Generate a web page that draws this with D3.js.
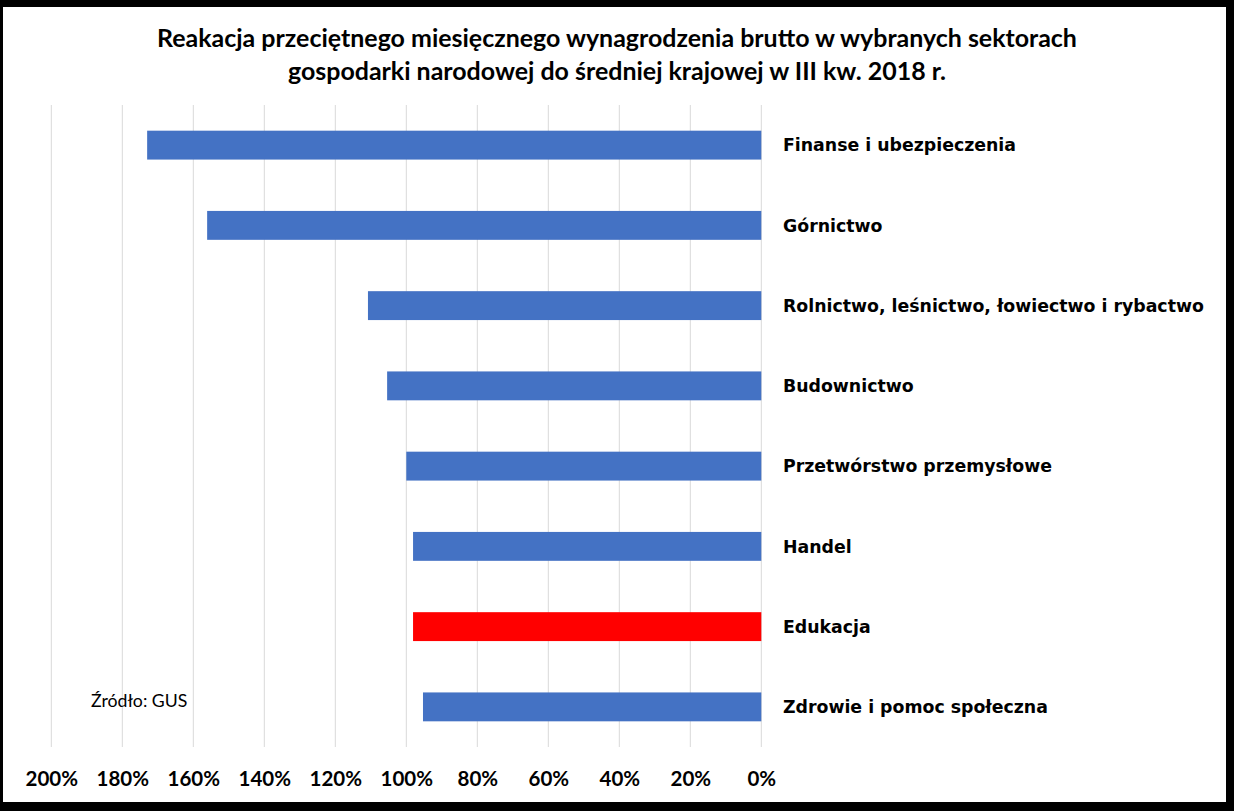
<!DOCTYPE html>
<html><head><meta charset="utf-8">
<script src="https://cdn.jsdelivr.net/npm/d3@7"></script>
<style>
html,body{margin:0;padding:0;background:#000;}
svg{display:block;}
</style></head>
<body>
<script>
const categories = ["Finanse i ubezpieczenia","Górnictwo","Rolnictwo, leśnictwo, łowiectwo i rybactwo","Budownictwo","Przetwórstwo przemysłowe","Handel","Edukacja","Zdrowie i pomoc społeczna"];
const values = [173.0, 156.1, 110.8, 105.4, 100.0, 98.1, 98.1, 95.3];
const highlighted = ["Edukacja"];
const tickValues = [200,180,160,140,120,100,80,60,40,20,0];
const titleLines = ["Reakacja przeciętnego miesięcznego wynagrodzenia brutto w wybranych sektorach","gospodarki narodowej do średniej krajowej w III kw. 2018 r."];
const sourceNote = "Źródło: GUS";

const W = 1234, H = 811;
const svg = d3.select("body").append("svg").attr("width", W).attr("height", H);
svg.append("rect").attr("x",0).attr("y",0).attr("width",W).attr("height",H).attr("fill","#000");
svg.append("rect").attr("x",3).attr("y",7).attr("width",1223).attr("height",795).attr("fill","#fff");

const x = d3.scaleLinear().domain([200,0]).range([51.3,761.3]);
const y = d3.scaleBand().domain(categories).range([105,747]).paddingInner(0.64).paddingOuter(0.32);

// gridlines
svg.append("g").selectAll("line").data(tickValues).join("line")
  .attr("x1",d=>x(d)).attr("x2",d=>x(d)).attr("y1",105).attr("y2",747)
  .attr("stroke","#d9d9d9").attr("stroke-width",1);

// bars
svg.append("g").selectAll("rect").data(categories).join("rect")
  .attr("x",(d,i)=>x(values[i])).attr("width",(d,i)=>x(0)-x(values[i]))
  .attr("y",d=>y(d)).attr("height",y.bandwidth())
  .attr("fill",d=>highlighted.includes(d)?"#ff0000":"#4472c4");

function fit(sel, target){
  const n = sel.node();
  const w = n.getComputedTextLength();
  const fs = parseFloat(sel.attr("font-size"));
  sel.attr("font-size", (fs*target/w).toFixed(2));
}

// category labels
const labs = svg.append("g").selectAll("text").data(categories).join("text")
  .attr("x",783).attr("y",d=>y(d)+y.bandwidth()/2).attr("dy","0.36em")
  .attr("font-family","DejaVu Sans").attr("font-weight","bold").attr("font-size",17)
  .attr("fill","#000").text(d=>d);
{
  const t = labs.filter((d,i)=>i===2);
  const w = t.node().getComputedTextLength();
  labs.attr("font-size", (17*421/w).toFixed(2));
}

// axis tick labels
const axis = d3.axisBottom(x).tickValues(tickValues).tickFormat(d=>d+"%").tickSize(0).tickPadding(0);
const ax = svg.append("g").attr("transform","translate(0,786)").call(axis);
ax.select(".domain").remove();
ax.selectAll("text").attr("font-family","Lato").attr("font-weight","bold").attr("font-size",20.5).attr("fill","#000").attr("y",0).attr("dy","0");

// title
const t1 = svg.append("text").attr("x",617).attr("y",47).attr("text-anchor","middle")
  .attr("font-family","Lato").attr("font-weight","bold").attr("font-size",23).attr("fill","#000").text(titleLines[0]);
fit(t1, 920);
const t2 = svg.append("text").attr("x",617).attr("y",80).attr("text-anchor","middle")
  .attr("font-family","Lato").attr("font-weight","bold").attr("font-size",t1.attr("font-size")).attr("fill","#000").text(titleLines[1]);

// source
svg.append("text").attr("x",91).attr("y",707).attr("font-family","Lato").attr("font-size",17.7).attr("fill","#000").text(sourceNote);
</script>
</body></html>
